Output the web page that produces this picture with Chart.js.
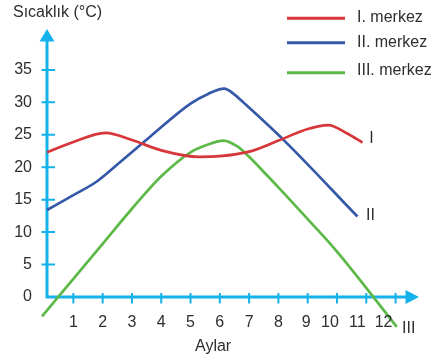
<!DOCTYPE html>
<html>
<head>
<meta charset="utf-8">
<script src="https://cdn.jsdelivr.net/npm/chart.js@4/dist/chart.umd.min.js"></script>
<style>
  html, body { margin: 0; padding: 0; background: #ffffff; }
  #wrap { width: 443px; height: 361px; }
</style>
</head>
<body>
<div id="wrap"><canvas id="c" width="443" height="361"></canvas></div>
<script>
// Monthly temperature curves for three stations (°C)
const seriesNames = ['I. merkez', 'II. merkez', 'III. merkez'];
const endLabels = ['I', 'II', 'III'];

const monthsI = [0.1, 1, 2.1, 3, 4, 5.3, 6, 7, 8, 9, 9.7, 10.35, 10.87];
const tempsI  = [22.3, 23.9, 25.3, 24.2, 22.6, 21.6, 21.7, 22.4, 24.1, 25.9, 26.5, 25.2, 23.8];

const monthsII = [0.1, 1.0, 1.8, 2.6, 3.62, 5.0, 5.6, 6.15, 6.5, 6.85, 8.2, 10.7];
const tempsII  = [13.4, 15.7, 17.8, 20.8, 24.7, 29.8, 31.3, 32.1, 31.2, 29.8, 24.1, 12.4];

const monthsIII = [-0.07, 2, 3, 4, 5, 5.6, 6.12, 6.6, 7, 7.6, 8, 9, 10, 12.04];
const tempsIII  = [-3.0, 8.2, 13.6, 18.6, 22.3, 23.5, 24.1, 23.2, 21.6, 18.8, 16.9, 12.0, 7.0, -4.6];

const monthTicks = [1, 2, 3, 4, 5, 6, 7, 8, 9, 10, 11, 12];
const tempTicks = [0, 5, 10, 15, 20, 25, 30, 35];

const colors = ['#d7373a', '#3558a8', '#5cb947'];
const axisColor = '#14b2ea';
const textColor = '#2e2e2e';
const FONT = '"Liberation Sans", Arial, Helvetica, sans-serif';
// month labels near the arrow sit a little to the left of their tick
const monthLabelNudge = { 9: -1.5, 10: -7, 11: -9, 12: -12 };

const toPoints = (xs, ys) => xs.map((x, i) => ({ x: x, y: ys[i] }));
const allSeries = [toPoints(monthsI, tempsI), toPoints(monthsII, tempsII), toPoints(monthsIII, tempsIII)];

const datasets = allSeries.map((pts, i) => ({
  label: seriesNames[i],
  data: pts,
  borderColor: colors[i],
  backgroundColor: colors[i],
  borderWidth: 2.7,
  pointRadius: 0,
  cubicInterpolationMode: 'monotone',
  clip: false
}));

// Axes with arrowheads and crossing tick marks, drawn beneath the curves
const axesPlugin = {
  id: 'arrowAxes',
  beforeDatasetsDraw(chart) {
    const { ctx, scales: { x, y } } = chart;
    const x0 = x.getPixelForValue(x.min);
    const y0 = y.getPixelForValue(0);
    const xEnd = x.getPixelForValue(x.max);
    const yEnd = y.getPixelForValue(y.max);
    ctx.save();
    ctx.strokeStyle = axisColor;
    ctx.fillStyle = axisColor;
    ctx.lineWidth = 3;
    ctx.beginPath();
    ctx.moveTo(x0, y0 + 1.5);
    ctx.lineTo(x0, yEnd + 10);
    ctx.moveTo(x0 - 1.5, y0);
    ctx.lineTo(xEnd - 10, y0);
    ctx.stroke();
    // arrowheads
    ctx.beginPath();
    ctx.moveTo(x0, yEnd);
    ctx.lineTo(x0 - 7.5, yEnd + 12.5);
    ctx.lineTo(x0 + 7.5, yEnd + 12.5);
    ctx.closePath();
    ctx.fill();
    ctx.beginPath();
    ctx.moveTo(xEnd, y0);
    ctx.lineTo(xEnd - 13.5, y0 - 7);
    ctx.lineTo(xEnd - 13.5, y0 + 7);
    ctx.closePath();
    ctx.fill();
    // tick marks
    ctx.lineWidth = 2;
    ctx.beginPath();
    y.ticks.forEach(t => {
      if (t.value === 0) return;
      const py = y.getPixelForValue(t.value);
      ctx.moveTo(x0 - 5.5, py);
      ctx.lineTo(x0 + 8, py);
    });
    x.ticks.forEach(t => {
      const px = x.getPixelForValue(t.value);
      ctx.moveTo(px, y0 - 4);
      ctx.lineTo(px, y0 + 6.5);
    });
    ctx.stroke();
    ctx.restore();
  },
  afterDatasetsDraw(chart) {
    const { ctx, scales: { x, y } } = chart;
    const y0 = y.getPixelForValue(0);
    ctx.save();
    ctx.fillStyle = textColor;
    ctx.font = '16px ' + FONT;
    ctx.textBaseline = 'middle';
    ctx.textAlign = 'center';
    // month labels under the horizontal axis
    x.ticks.forEach(t => {
      const nudge = monthLabelNudge[t.value] || 0;
      ctx.fillText(String(t.value), x.getPixelForValue(t.value) + nudge, y0 + 26);
    });
    // series names at the end of each curve
    const offs = [[9, -4], [13, -1], [12, 2]];
    allSeries.forEach((pts, i) => {
      const last = pts[pts.length - 1];
      ctx.fillText(endLabels[i], x.getPixelForValue(last.x) + offs[i][0], y.getPixelForValue(last.y) + offs[i][1]);
    });
    // axis titles
    ctx.textAlign = 'left';
    ctx.textBaseline = 'alphabetic';
    ctx.fillText('Sıcaklık (°C)', 13, 17);
    ctx.textAlign = 'center';
    ctx.textBaseline = 'middle';
    ctx.fillText('Aylar', x.getPixelForValue(5.77), 347);
    // legend
    const rows = [18.3, 42.7, 72.7];
    const baselines = [21.7, 46.5, 75];
    ctx.textAlign = 'left';
    ctx.textBaseline = 'alphabetic';
    seriesNames.forEach((name, i) => {
      ctx.strokeStyle = colors[i];
      ctx.lineWidth = 3;
      ctx.beginPath();
      ctx.moveTo(287, rows[i]);
      ctx.lineTo(345, rows[i]);
      ctx.stroke();
      ctx.fillText(name, 357, baselines[i]);
    });
    ctx.restore();
  }
};

new Chart(document.getElementById('c'), {
  type: 'line',
  data: { datasets: datasets },
  options: {
    responsive: false,
    animation: false,
    layout: { padding: { top: 29, right: 24, left: 0, bottom: 0 } },
    plugins: { legend: { display: false }, tooltip: { enabled: false } },
    scales: {
      x: {
        type: 'linear',
        min: 0.1,
        max: 12.8,
        afterBuildTicks: (scale) => { scale.ticks = monthTicks.map(v => ({ value: v })); },
        afterFit: (scale) => { scale.height = 64; },
        grid: { display: false, drawTicks: false },
        border: { display: false },
        ticks: { display: false }
      },
      y: {
        type: 'linear',
        min: 0,
        max: 41.3,
        afterBuildTicks: (scale) => { scale.ticks = tempTicks.map(v => ({ value: v })); },
        afterFit: (scale) => { scale.width = 47; },
        grid: { display: false, drawTicks: false },
        border: { display: false },
        ticks: { color: textColor, padding: 15, font: { size: 16, family: FONT } }
      }
    }
  },
  plugins: [axesPlugin]
});
</script>
</body>
</html>
